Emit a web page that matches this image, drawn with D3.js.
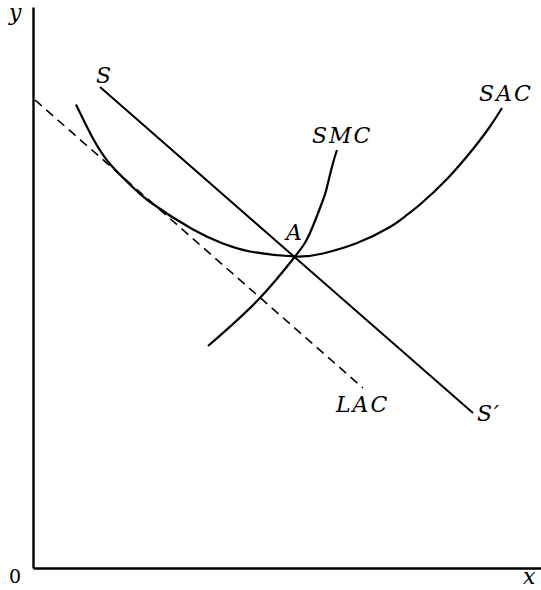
<!DOCTYPE html>
<html>
<head>
<meta charset="utf-8">
<script src="https://cdn.jsdelivr.net/npm/d3@7"></script>
<style>
  html, body { margin: 0; padding: 0; background: #fff; }
  svg { display: block; }
  .lbl { font-family: "DejaVu Serif", "Liberation Serif", serif; font-style: italic; font-size: 22px; letter-spacing: 2px; fill: #000; }
  .num { font-family: "DejaVu Serif", "Liberation Serif", serif; font-size: 19px; fill: #000; }
</style>
</head>
<body>
<script>
// ---- data (chart units) ----
const xDomain = [0, 101.6];
const yDomain = [0, 112.2];

const sLine = [[13.4, 96.2], [88, 31]];
const lacLine = [[0.4, 93.6], [66, 36]];

const sacX = [8.6, 12, 15.4, 19.4, 23.4, 32, 38, 43.4, 52.4, 58, 64.8, 71.4, 74.4, 77.4, 82.8, 88, 91.4, 93.8];
const sacY = [92.7, 85.9, 80.8, 76.7, 73.2, 67.7, 64.9, 63.3, 62.3, 62.9, 65.0, 68.2, 70.3, 72.7, 77.8, 83.8, 88.3, 92.0];

const smcX = [35, 45, 52.4, 55.4, 58, 58.8, 60, 60.8];
const smcY = [44.4, 53.6, 62.3, 67, 73.6, 76.2, 81, 83.6];

const labels = ["S", "SAC", "SMC", "A", "LAC", "S\u2032"];
const labelX = [12.6, 89.2, 55.8, 50.6, 60.6, 88.8];
const labelY = [97, 93.4, 85, 65.6, 31.2, 29.4];

// ---- drawing ----
const W = 541, H = 590;
const svg = d3.select("body").append("svg").attr("width", W).attr("height", H);

const x = d3.scaleLinear().domain(xDomain).range([33, 541]);
const y = d3.scaleLinear().domain(yDomain).range([568, 7]);

// axes
svg.append("g").attr("transform", `translate(0,${y(0)})`)
  .call(d3.axisBottom(x).ticks(0).tickSize(0).tickSizeOuter(0))
  .call(g => g.select(".domain").attr("stroke", "#000").attr("stroke-width", 2.4));
svg.append("g").attr("transform", `translate(${x(0)},0)`)
  .call(d3.axisLeft(y).ticks(0).tickSize(0).tickSizeOuter(0))
  .call(g => g.select(".domain").attr("stroke", "#000").attr("stroke-width", 2.4));

const line = d3.line().x(d => x(d[0])).y(d => y(d[1]));
const curve = d3.line().x(d => x(d[0])).y(d => y(d[1])).curve(d3.curveNatural);

svg.append("path").datum(sLine).attr("d", line)
  .attr("fill", "none").attr("stroke", "#000").attr("stroke-width", 2);

svg.append("path").datum(lacLine).attr("d", line)
  .attr("fill", "none").attr("stroke", "#000").attr("stroke-width", 1.6)
  .attr("stroke-dasharray", "9,6");

svg.append("path").datum(sacX.map((v, i) => [v, sacY[i]])).attr("d", curve)
  .attr("fill", "none").attr("stroke", "#000").attr("stroke-width", 2.2);

svg.append("path").datum(smcX.map((v, i) => [v, smcY[i]])).attr("d", curve)
  .attr("fill", "none").attr("stroke", "#000").attr("stroke-width", 2.2);

// curve labels
svg.selectAll("text.curve").data(labels).enter().append("text")
  .attr("class", "lbl")
  .attr("x", (d, i) => x(labelX[i]))
  .attr("y", (d, i) => y(labelY[i]))
  .text(d => d);

// axis labels
svg.append("text").attr("class", "lbl").attr("x", 9).attr("y", 20).style("letter-spacing", "0px").text("y");
svg.append("text").attr("class", "lbl").attr("x", 523).attr("y", 584).style("letter-spacing", "0px").text("x");
svg.append("text").attr("class", "num").attr("x", 9).attr("y", 583).text("0");
</script>
</body>
</html>
